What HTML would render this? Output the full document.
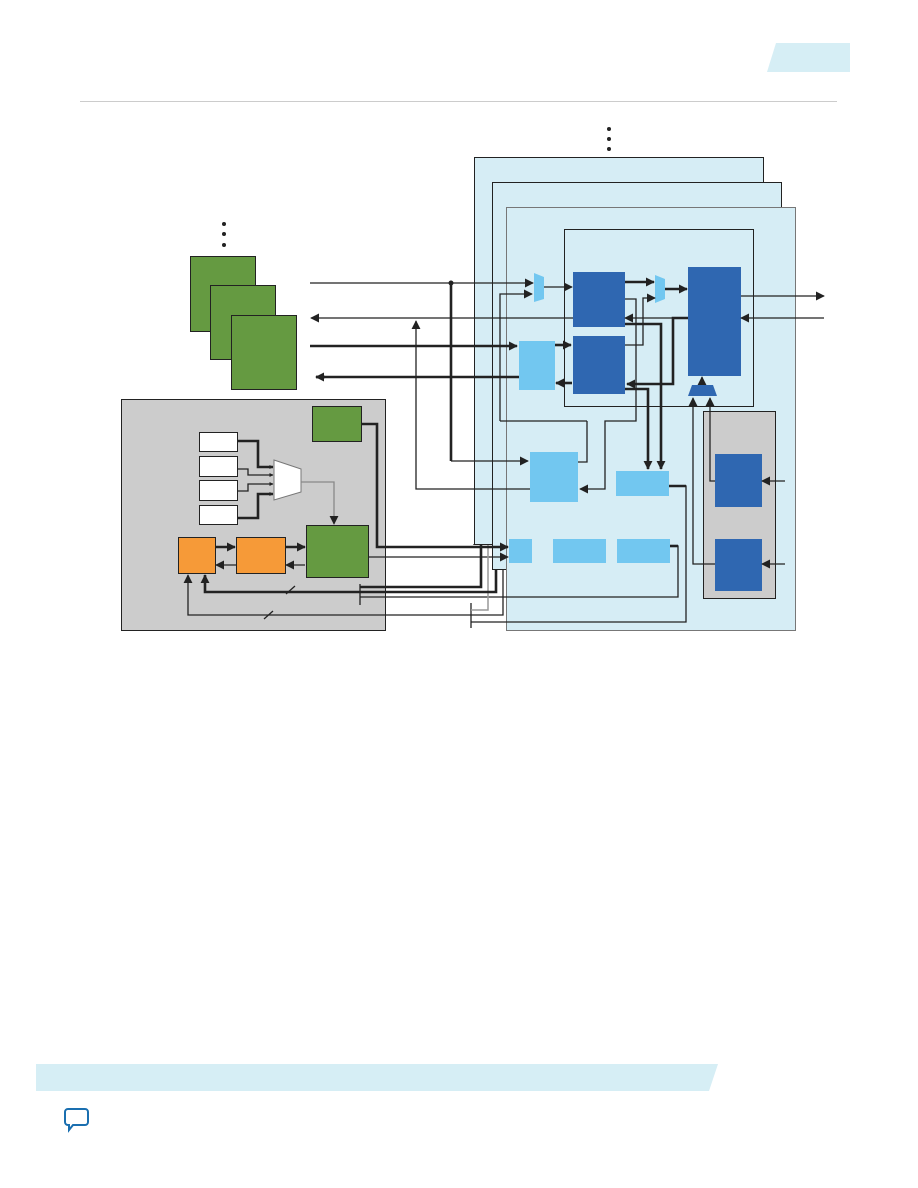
<!DOCTYPE html>
<html><head><meta charset="utf-8"><style>html,body{margin:0;padding:0;background:#fff;}svg{display:block;}</style></head>
<body>
<svg width="918" height="1188" viewBox="0 0 918 1188" xmlns="http://www.w3.org/2000/svg">
<defs>
<marker id="a" viewBox="0 0 10 10" refX="9" refY="5" markerWidth="4" markerHeight="4" orient="auto" markerUnits="userSpaceOnUse"><path d="M0,0L10,5L0,10z" fill="#222"/></marker>
<marker id="b" viewBox="0 0 10 10" refX="9" refY="5" markerWidth="9" markerHeight="9" orient="auto" markerUnits="userSpaceOnUse"><path d="M0,0L10,5L0,10z" fill="#222"/></marker>
</defs>
<!-- header -->
<polygon points="776,43 850,43 850,72 767,72" fill="#d6eef5"/>
<line x1="80" y1="101.5" x2="837" y2="101.5" stroke="#ccc" stroke-width="1"/>
<!-- footer -->
<polygon points="36,1064 718,1064 709,1091 36,1091" fill="#d6eef5"/>
<path d="M68,1109h17a3,3 0 0 1 3,3v10a3,3 0 0 1 -3,3h-12l-4,5v-5h-1a3,3 0 0 1 -3,-3v-10a3,3 0 0 1 3,-3z" fill="none" stroke="#1a6fb0" stroke-width="2"/>
<!-- dots -->
<g fill="#222"><circle cx="609" cy="129" r="2"/><circle cx="609" cy="139" r="2"/><circle cx="609" cy="149" r="2"/>
<circle cx="224" cy="224" r="2"/><circle cx="224" cy="234" r="2"/><circle cx="224" cy="245" r="2"/></g>
<!-- panels -->
<rect x="474.5" y="157.5" width="289" height="387" fill="#d6edf5" stroke="#222"/>
<rect x="492.5" y="182.5" width="289" height="387" fill="#d6edf5" stroke="#222"/>
<rect x="506.5" y="207.5" width="289" height="423" fill="#d6edf5" stroke="#777"/>
<rect x="564.5" y="229.5" width="189" height="177" fill="none" stroke="#222"/>
<!-- green stack -->
<g stroke="#222" fill="#659a41"><rect x="190.5" y="256.5" width="65" height="75"/><rect x="210.5" y="285.5" width="65" height="74"/><rect x="231.5" y="315.5" width="65" height="74"/></g>
<!-- grey left -->
<rect x="121.5" y="399.5" width="264" height="231" fill="#cccccc" stroke="#222"/>
<rect x="312.5" y="406.5" width="49" height="35" fill="#659a41" stroke="#222"/>
<g fill="#fff" stroke="#222"><rect x="199.5" y="432.5" width="38" height="19"/><rect x="199.5" y="456.5" width="38" height="20"/><rect x="199.5" y="480.5" width="38" height="20"/><rect x="199.5" y="505.5" width="38" height="19"/></g>
<polygon points="274,460 301,469 301,492 274,500" fill="#fff" stroke="#777"/>
<rect x="178.5" y="537.5" width="37" height="36" fill="#f69a38" stroke="#222"/>
<rect x="236.5" y="537.5" width="49" height="36" fill="#f69a38" stroke="#222"/>
<rect x="306.5" y="525.5" width="62" height="52" fill="#659a41" stroke="#222"/>
<!-- blue blocks -->
<g fill="#2f67b1"><rect x="573" y="272" width="52" height="55"/><rect x="573" y="336" width="52" height="58"/><rect x="688" y="267" width="53" height="109"/><polygon points="692,385 713,385 717,396 688,396"/></g>
<g fill="#72c7f0"><polygon points="534,273 544,277 544,299 534,302"/><polygon points="655,275 665,279 665,299 655,303"/>
<rect x="519" y="341" width="36" height="49"/><rect x="530" y="452" width="48" height="50"/><rect x="616" y="471" width="53" height="25"/>
<rect x="509" y="539" width="23" height="24"/><rect x="553" y="539" width="53" height="24"/><rect x="617" y="539" width="53" height="24"/></g>
<rect x="703.5" y="411.5" width="72" height="187" fill="#cccccc" stroke="#222"/>
<rect x="715" y="454" width="47" height="53" fill="#2f67b1"/><rect x="715" y="539" width="47" height="52" fill="#2f67b1"/>
<!-- thin lines -->
<g fill="none" stroke="#222" stroke-width="1.3">
<path d="M310,283H533" marker-end="url(#b)"/>
<path d="M544,287H572" marker-end="url(#b)"/>
<path d="M587,421V462H578" /><path d="M500,421V294H532" marker-end="url(#b)"/><path d="M500,421H587"/>
<path d="M688,318H625" marker-end="url(#b)"/>
<path d="M573,318H311" marker-end="url(#b)"/>
<path d="M530,489H416V321" marker-end="url(#b)"/>
<path d="M625,345H643V298H655" marker-end="url(#b)"/>
<path d="M625,299H636V421H605V489H580" marker-end="url(#b)"/>
<path d="M741,296H824" marker-end="url(#b)"/>
<path d="M824,318H741" marker-end="url(#b)"/>
<path d="M702,385V377" marker-end="url(#b)"/>
<path d="M715,564H693V398" marker-end="url(#b)"/>
<path d="M715,481H710V398" marker-end="url(#b)"/>
<path d="M785,481H762" marker-end="url(#b)"/>
<path d="M785,564H762" marker-end="url(#b)"/>
<path d="M368,557H508" marker-end="url(#b)"/>
<path d="M360,597H678V546H670"/>
<path d="M471,615H503V569"/>
<path d="M471,622H686V486H669"/>
<path d="M360,584V605M471,603V628"/>
<path d="M471,615H188V575" marker-end="url(#b)"/>
<path d="M236,565H216" marker-end="url(#b)"/>
<path d="M305,565H286" marker-end="url(#b)"/>
<path d="M264,619L273,611M286,594L295,586"/>
<path d="M237,469H248V475H273" marker-end="url(#a)"/>
<path d="M237,491H248V484H273" marker-end="url(#a)"/>
<path d="M451,461H528" marker-end="url(#b)"/>
<path d="M474,545V544M481,545V587"/>
</g>
<path d="M301,482H334V524" fill="none" stroke="#888" stroke-width="1.3"/>
<path d="M334,518V524" stroke="#222" marker-end="url(#b)"/>
<path d="M471,610H488V545" fill="none" stroke="#999" stroke-width="1.5"/>
<!-- thick lines -->
<g fill="none" stroke="#222" stroke-width="2.6">
<path d="M451,283V461"/>
<path d="M310,346H517" marker-end="url(#b)"/>
<path d="M316,377H519"/><path d="M325,377H316" stroke-width="2.6" marker-end="url(#b)"/>
<path d="M555,345H571" marker-end="url(#b)"/>
<path d="M572,383H556" marker-end="url(#b)"/>
<path d="M625,282H654" marker-end="url(#b)"/>
<path d="M665,289H687" marker-end="url(#b)"/>
<path d="M625,324H661V469" marker-end="url(#b)"/>
<path d="M625,389H648V469" marker-end="url(#b)"/>
<path d="M688,318H673V384H627" marker-end="url(#b)"/>
<path d="M361,424H377V547H508" marker-end="url(#b)"/>
<path d="M360,587H481V545"/>
<path d="M360,592H205V575" marker-end="url(#b)"/>
<path d="M360,592H496V569"/>
<path d="M215,547H235" marker-end="url(#b)"/>
<path d="M285,547H305" marker-end="url(#b)"/>
<path d="M237,441H258V467H273" marker-end="url(#a)"/>
<path d="M237,518H258V494H273" marker-end="url(#a)"/>
<path d="M669,486H686" />
<path d="M670,546H678"/>
</g>
<circle cx="451" cy="283" r="2.5" fill="#222"/>
</svg>
</body></html>
